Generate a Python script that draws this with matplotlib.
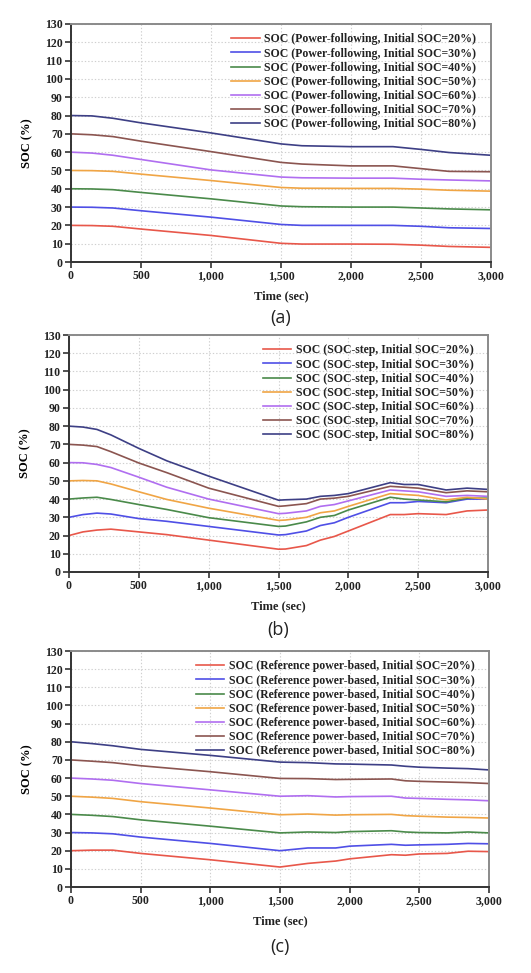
import matplotlib
matplotlib.use("Agg")
import matplotlib.pyplot as plt
from matplotlib.ticker import FuncFormatter

# ---------------- data ----------------
initial_soc = [20, 30, 40, 50, 60, 70, 80]
colors = ["#e8574a", "#4f4fe6", "#4a8a4a", "#f0a545", "#b06ef0", "#8b5550", "#3d3f85"]

# (a) Power-following
t_a = [0, 150, 300, 500, 1000, 1500, 1650, 2000, 2300, 2500, 2700, 3000]
soc_a = [
    [20, 19.9, 19.5, 18.0, 14.5, 10.2, 9.8, 9.8, 9.7, 9.2, 8.5, 8.0],
    [30, 29.9, 29.5, 28.0, 24.5, 20.5, 20.0, 20.0, 20.0, 19.5, 18.7, 18.3],
    [40, 39.9, 39.5, 38.0, 34.5, 30.6, 30.2, 30.0, 30.0, 29.5, 29.0, 28.5],
    [50, 49.9, 49.5, 48.0, 44.5, 40.7, 40.3, 40.2, 40.2, 39.8, 39.2, 38.7],
    [60, 59.5, 58.3, 56.0, 50.3, 46.4, 46.0, 45.8, 45.8, 45.2, 44.8, 44.3],
    [70, 69.5, 68.5, 66.0, 60.3, 54.4, 53.5, 52.5, 52.5, 51.0, 49.5, 49.3],
    [80, 79.8, 78.5, 76.0, 70.5, 64.5, 63.5, 63.0, 63.0, 61.5, 59.8, 58.3],
]

# (b) SOC-step
t_b = [0, 100, 200, 300, 500, 700, 1000, 1500, 1550, 1700, 1800, 1900, 2000, 2300, 2400, 2500, 2700, 2850, 3000]
soc_b = [
    [20, 22.0, 23.0, 23.5, 22.0, 20.5, 17.5, 12.5, 12.6, 14.5, 17.5, 19.5, 22.5, 31.5, 31.5, 32.0, 31.5, 33.5, 34.0],
    [30, 31.5, 32.3, 31.8, 29.3, 27.8, 25.0, 20.3, 20.5, 22.5, 25.5, 27.0, 30.0, 38.0, 38.0, 38.7, 38.0, 40.0, 40.0],
    [40, 40.6, 41.0, 39.8, 37.0, 34.3, 29.8, 25.0, 25.2, 27.5, 30.0, 31.0, 34.0, 41.0, 40.0, 39.5, 38.5, 40.5, 40.5],
    [50, 50.2, 50.0, 48.3, 44.0, 39.8, 35.0, 28.3, 28.5, 30.0, 32.5, 33.5, 36.0, 43.0, 42.5, 42.0, 39.5, 41.0, 40.0],
    [60, 59.9, 59.0, 57.3, 52.0, 46.5, 40.0, 32.0, 32.2, 33.5, 36.0, 37.0, 39.0, 45.0, 44.5, 44.0, 41.5, 42.0, 41.5],
    [70, 69.6, 68.8, 66.0, 59.8, 54.5, 46.0, 36.0, 36.3, 37.5, 40.0, 40.5, 41.5, 47.0, 46.5, 46.0, 43.5, 44.5, 44.0],
    [80, 79.5, 78.2, 75.2, 67.8, 61.0, 52.6, 39.4, 39.6, 40.0, 41.5, 42.0, 43.0, 49.0, 48.0, 48.0, 45.0, 46.0, 45.3],
]

# (c) Reference power-based
t_c = [0, 150, 300, 500, 1000, 1500, 1700, 1900, 2000, 2300, 2400, 2500, 2700, 2850, 3000]
soc_c = [
    [20, 20.3, 20.3, 18.5, 15.0, 11.0, 13.0, 14.3, 15.5, 17.8, 17.5, 18.2, 18.5, 19.7, 19.5],
    [30, 29.8, 29.3, 27.5, 24.0, 20.0, 21.5, 21.5, 22.5, 23.5, 23.0, 23.2, 23.5, 24.0, 23.8],
    [40, 39.5, 38.8, 37.0, 33.5, 29.8, 30.3, 30.0, 30.5, 31.0, 30.3, 30.0, 29.8, 30.3, 29.8],
    [50, 49.5, 48.8, 47.0, 43.5, 39.8, 40.2, 39.6, 39.8, 40.0, 39.3, 39.0, 38.5, 38.3, 38.0],
    [60, 59.5, 58.8, 57.0, 53.5, 50.0, 50.3, 49.6, 49.8, 50.0, 49.0, 48.8, 48.3, 48.0, 47.5],
    [70, 69.3, 68.5, 66.8, 63.5, 59.8, 59.7, 59.2, 59.3, 59.5, 58.5, 58.2, 57.8, 57.5, 57.0],
    [80, 79.0, 77.8, 75.8, 72.5, 68.8, 68.5, 67.8, 67.7, 67.2, 66.5, 66.0, 65.5, 65.2, 64.5],
]

labels_a = [f"SOC (Power-following, Initial SOC={s}%)" for s in initial_soc]
labels_b = [f"SOC (SOC-step, Initial SOC={s}%)" for s in initial_soc]
labels_c = [f"SOC (Reference power-based, Initial SOC={s}%)" for s in initial_soc]

x_ticks = [0, 500, 1000, 1500, 2000, 2500, 3000]
y_ticks = list(range(0, 131, 10))
subtitles = ["(a)", "(b)", "(c)"]

# ---------------- figure ----------------
W, H = 531, 973
fig = plt.figure(figsize=(W / 100, H / 100), dpi=100)

serif = "Liberation Serif"
panels = [
    (t_a, soc_a, labels_a, [71, 24, 491, 262], 296, 318),
    (t_b, soc_b, labels_b, [69, 335, 488, 572], 606, 630),
    (t_c, soc_c, labels_c, [71, 651, 489, 887], 921, 947),
]

for (t, soc, labels, (x0, y0, x1, y1), xlab_y, sub_y), sub in zip(panels, subtitles):
    ax = fig.add_axes([x0 / W, 1 - y1 / H, (x1 - x0) / W, (y1 - y0) / H])
    for vals, c, lab in zip(soc, colors, labels):
        ax.plot(t, vals, color=c, lw=1.2, label=lab)
    ax.set_xlim(0, 3000)
    ax.set_ylim(0, 130)
    ax.set_xticks(x_ticks)
    ax.set_yticks(y_ticks)
    ax.xaxis.set_major_formatter(FuncFormatter(lambda v, p: f"{int(v):,}"))
    ax.grid(True, color="#cfcfcf", ls=(0, (1.2, 1.8)), lw=0.8)
    ax.tick_params(direction="out", length=4, width=1.2, color="#333333",
                   labelsize=8.5, pad=2)
    for lab in ax.get_xticklabels() + ax.get_yticklabels():
        lab.set_fontfamily(serif)
        lab.set_fontweight("bold")
        lab.set_color("#222222")
    ax.spines["left"].set_color("#333333")
    ax.spines["bottom"].set_color("#333333")
    ax.spines["top"].set_color("#8a8a8a")
    ax.spines["right"].set_color("#8a8a8a")
    for s in ax.spines.values():
        s.set_linewidth(1.4)
    ax.set_ylabel("SOC (%)", fontfamily=serif, fontweight="bold", fontsize=9, labelpad=8)
    leg = ax.legend(loc="upper right", frameon=False,
                    prop={"family": serif, "weight": "bold", "size": 8.5},
                    handlelength=2.4, handletextpad=0.4, labelspacing=0.18,
                    borderaxespad=0.3, bbox_to_anchor=(0.985, 0.995))
    for txt in leg.get_texts():
        txt.set_color("#222222")
    fig.text((x0 + x1) / 2 / W, 1 - xlab_y / H, "Time (sec)", ha="center", va="center",
             fontfamily=serif, fontweight="bold", fontsize=9, color="#222222")
    fig.text((x0 + x1) / 2 / W, 1 - sub_y / H, sub, ha="center", va="center",
             fontfamily="Open Sans", fontsize=13, color="#222222")

fig.savefig("out.png", dpi=100)
